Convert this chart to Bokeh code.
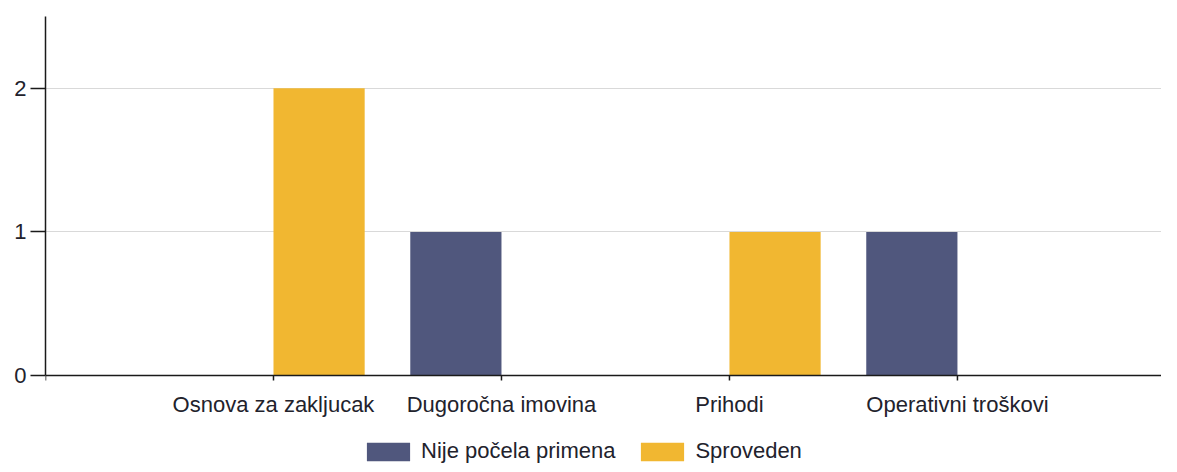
from bokeh.plotting import figure
from bokeh.models import Range1d, FixedTicker, Legend, LegendItem, ColumnDataSource, Span
from bokeh.core.properties import value
from bokeh.embed import file_html
from bokeh.resources import INLINE

categories = ["Osnova za zakljucak", "Dugoročna imovina", "Prihodi", "Operativni troškovi"]
nije_pocela = [0, 1, 0, 1]
sproveden = [2, 0, 1, 0]
series_names = ["Nije počela primena", "Sproveden"]
series_colors = ["#50577d", "#f1b731"]
y_ticks = [0, 1, 2]

FONT = "Liberation Sans"
TEXT = "#22222c"
FS = "22px"
AXIS = "#1a1a1a"

centers = [i + 0.5 for i in range(len(categories))]
bar_w = 0.4

Y_TOP = 2.5
PLOT_H = 359            # pixels from value 0 up to Y_TOP
FRAME_H = 448           # frame extends below 0 to hold labels + legend
px_per_unit = PLOT_H / Y_TOP
y_start = -(FRAME_H - PLOT_H) / px_per_unit

p = figure(frame_width=1116, frame_height=FRAME_H, output_backend="svg", toolbar_location=None,
           x_range=Range1d(-0.5, 4.395), y_range=Range1d(y_start, Y_TOP),
           x_axis_location=None,
           min_border_left=45, min_border_right=0, min_border_top=16, min_border_bottom=0)
p.outline_line_color = None
p.background_fill_color = "white"
p.border_fill_color = "white"

src = ColumnDataSource(dict(
    x1=[c - bar_w / 2 for c in centers], top1=nije_pocela,
    x2=[c + bar_w / 2 for c in centers], top2=sproveden,
))
r1 = p.vbar(x="x1", top="top1", bottom=0, width=bar_w, source=src,
            fill_color=series_colors[0], line_color=None)
r2 = p.vbar(x="x2", top="top2", bottom=0, width=bar_w, source=src,
            fill_color=series_colors[1], line_color=None)

# category axis along value 0
p.add_layout(Span(location=0, dimension="width", line_color=AXIS, line_width=1.5))
tick_x = [-0.5] + centers
tick_len = 5 / px_per_unit
p.segment(x0=tick_x, y0=[0] * len(tick_x), x1=tick_x, y1=[-tick_len] * len(tick_x),
          line_color=AXIS, line_width=1.5)
lab_src = ColumnDataSource(dict(x=centers, y=[0] * len(centers), text=categories))
p.text(x="x", y="y", text="text", source=lab_src, y_offset=16,
       text_align="center", text_baseline="top",
       text_font=value(FONT), text_font_size=FS, text_color=TEXT)

# y axis
ya = p.yaxis[0]
ya.ticker = FixedTicker(ticks=y_ticks)
ya.bounds = (0, Y_TOP)
ya.major_tick_in = 0
ya.major_tick_out = 15
ya.minor_tick_line_color = None
ya.axis_line_color = AXIS
ya.axis_line_width = 1.5
ya.major_tick_line_color = AXIS
ya.major_tick_line_width = 1.5
ya.major_label_text_font = FONT
ya.major_label_text_font_size = FS
ya.major_label_text_color = TEXT
ya.major_label_standoff = 4

for g in p.grid:
    if g.dimension == 0:
        g.grid_line_color = None
    else:
        g.grid_line_color = "#d9d9d9"
        g.grid_line_width = 1

legend = Legend(items=[LegendItem(label=series_names[0], renderers=[r1]),
                       LegendItem(label=series_names[1], renderers=[r2])],
                orientation="horizontal", location=(316, 0),
                glyph_width=54, glyph_height=23, label_standoff=6, spacing=20,
                label_text_font=FONT, label_text_font_size=FS, label_text_color=TEXT,
                border_line_color=None, background_fill_alpha=0,
                padding=0, margin=0, label_height=20)
p.add_layout(legend, "center")

open("out.html", "w").write(file_html(p, INLINE))
